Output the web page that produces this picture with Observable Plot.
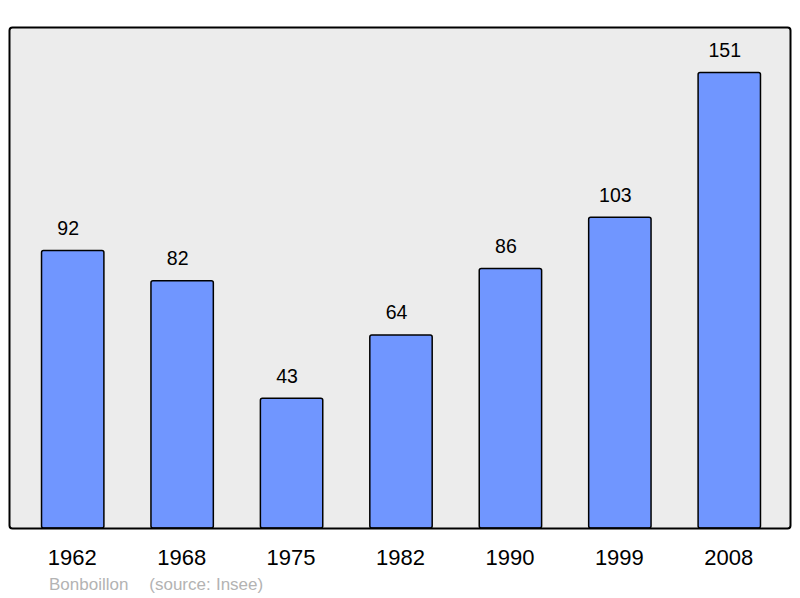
<!DOCTYPE html>
<html>
<head>
<meta charset="utf-8">
<script src="https://cdn.jsdelivr.net/npm/d3@7"></script>
<script src="https://cdn.jsdelivr.net/npm/@observablehq/plot@0.6"></script>
<style>
  body { margin: 0; background: white; font-family: "Liberation Sans", Arial, sans-serif; }
  #wrap { position: relative; width: 800px; height: 598px; }
  #caption { position: absolute; left: 49px; top: 575px; font-size: 17px; color: #b3b3b3; white-space: pre; word-spacing: 0.5px; }
</style>
</head>
<body>
<div id="wrap">
  <div id="chart"></div>
  <div id="caption">Bonboillon    (source: Insee)</div>
</div>
<script>
const years = ["1962", "1968", "1975", "1982", "1990", "1999", "2008"];
const population = [92, 82, 43, 64, 86, 103, 151];
const data = years.map((year, i) => ({ year, pop: population[i] }));

const chart = Plot.plot({
  width: 800,
  height: 570,
  marginTop: 27,
  marginBottom: 42,
  marginLeft: 9,
  marginRight: 10,
  style: { fontFamily: "Liberation Sans, Arial, sans-serif", background: "white", color: "black" },
  x: { domain: years, range: [18, 784], paddingInner: 0.43, paddingOuter: 0.215, round: false, axis: null },
  y: { domain: [0, 166.1], axis: null },
  marks: [
    Plot.frame({ fill: "#ececec", stroke: "none", rx: 3 }),
    Plot.barY(data, { x: "year", y: "pop", fill: "#7096ff", stroke: "black", strokeWidth: 1.5, rx: 2 }),
    Plot.text(data, { x: "year", y: "pop", text: d => String(d.pop), dx: -5, dy: -22.5, fontSize: 19.5, fill: "black" }),
    Plot.frame({ fill: "none", stroke: "black", strokeWidth: 2, rx: 3 }),
    Plot.axisX({ tickSize: 0, tickPadding: 21, dx: -1, fontSize: 22, label: null, fill: "black" })
  ]
});
document.getElementById("chart").appendChild(chart);
</script>
</body>
</html>
